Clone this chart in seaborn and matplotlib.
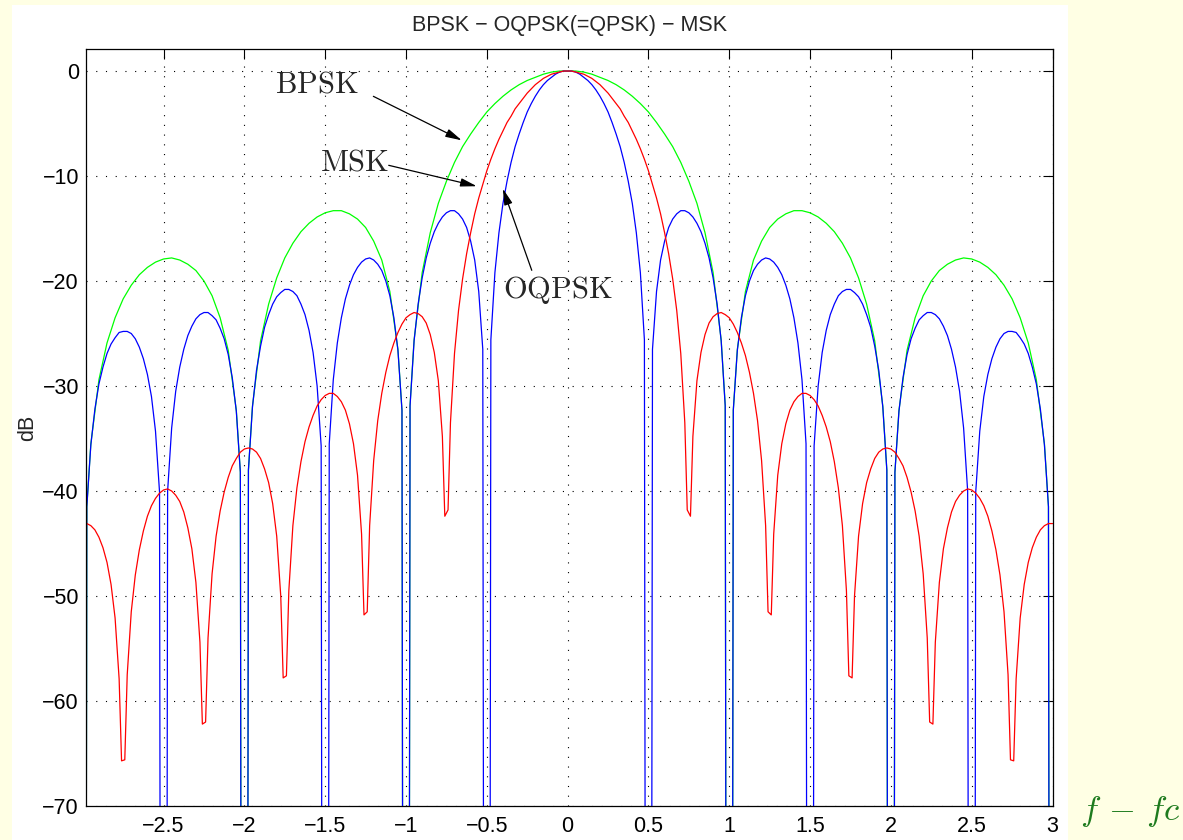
import numpy as np
import matplotlib
matplotlib.use("Agg")
import matplotlib.pyplot as plt
from matplotlib.patches import Rectangle
import seaborn as sns

# ---------------- data (positive-frequency half, spectra are symmetric) ----------------
# BPSK (green)
bpsk_freq = [0.00, 0.05, 0.10, 0.15, 0.20, 0.25, 0.30, 0.35, 0.40, 0.45,
             0.50, 0.55, 0.60, 0.65, 0.70, 0.75, 0.80, 0.85, 0.90, 0.95,
             0.975, 1.00, 1.025, 1.05, 1.10, 1.15, 1.20, 1.25, 1.30, 1.35,
             1.40, 1.45, 1.50, 1.55, 1.60, 1.65, 1.70, 1.75, 1.80, 1.85,
             1.90, 1.95, 1.975, 2.00, 2.025, 2.05, 2.10, 2.15, 2.20, 2.25,
             2.30, 2.35, 2.40, 2.45, 2.50, 2.55, 2.60, 2.65, 2.70, 2.75,
             2.80, 2.85, 2.90, 2.95, 2.975, 3.00]
bpsk_db = [0.0, -0.0, -0.1, -0.3, -0.6, -0.9, -1.3, -1.8, -2.4, -3.1,
           -3.9, -4.9, -6.0, -7.2, -8.7, -10.5, -12.6, -15.4, -19.2, -25.6,
           -31.8, -300.0, -32.3, -26.5, -21.0, -18.0, -16.2, -14.9, -14.1, -13.6,
           -13.3, -13.3, -13.5, -13.9, -14.5, -15.3, -16.4, -17.8, -19.7, -22.2,
           -25.7, -31.9, -38.0, -300.0, -38.2, -32.3, -26.6, -23.5, -21.4, -20.0,
           -19.0, -18.4, -18.0, -17.8, -17.9, -18.2, -18.7, -19.4, -20.4, -21.7,
           -23.5, -25.9, -29.4, -35.5, -41.5, -300.0]

# OQPSK (blue), sampled every 0.025 from 0 to 3
oqpsk_freq = np.linspace(0.0, 3.0, 121)
oqpsk_db = [0.0, -0.0, -0.1, -0.3, -0.6, -0.9, -1.3, -1.8, -2.4, -3.1,
            -3.9, -4.9, -6.0, -7.2, -8.7, -10.5, -12.6, -15.4, -19.2, -25.6,
            -300.0, -26.5, -21.0, -18.0, -16.2, -14.9, -14.1, -13.6, -13.3, -13.3,
            -13.5, -13.9, -14.5, -15.3, -16.4, -17.8, -19.7, -22.2, -25.7, -31.9,
            -300.0, -32.3, -26.6, -23.5, -21.4, -20.0, -19.0, -18.4, -18.0, -17.8,
            -17.9, -18.2, -18.7, -19.4, -20.4, -21.7, -23.5, -25.9, -29.4, -35.5,
            -300.0, -35.7, -30.0, -26.8, -24.7, -23.2, -22.2, -21.4, -21.0, -20.8,
            -20.8, -21.1, -21.5, -22.2, -23.2, -24.4, -26.2, -28.5, -32.0, -38.0,
            -300.0, -38.2, -32.4, -29.2, -27.0, -25.5, -24.5, -23.7, -23.3, -23.0,
            -23.0, -23.2, -23.6, -24.3, -25.2, -26.5, -28.2, -30.5, -34.0, -40.0,
            -300.0, -40.1, -34.3, -31.0, -28.9, -27.4, -26.3, -25.5, -25.0, -24.8,
            -24.8, -24.9, -25.4, -26.0, -26.9, -28.2, -29.8, -32.2, -35.6, -41.5,
            -300.0]

# MSK (red)
msk_freq = [0.000, 0.025, 0.050, 0.075, 0.100, 0.125, 0.150, 0.175, 0.200, 0.225,
            0.250, 0.275, 0.300, 0.325, 0.350, 0.375, 0.400, 0.425, 0.450, 0.475,
            0.500, 0.525, 0.550, 0.575, 0.600, 0.625, 0.650, 0.675, 0.700, 0.725,
            0.740, 0.760, 0.775, 0.800, 0.825, 0.850, 0.875, 0.900, 0.925, 0.950,
            0.975, 1.000, 1.025, 1.050, 1.075, 1.100, 1.125, 1.150, 1.175, 1.200,
            1.225, 1.240, 1.260, 1.275, 1.300, 1.325, 1.350, 1.375, 1.400, 1.425,
            1.450, 1.475, 1.500, 1.525, 1.550, 1.575, 1.600, 1.625, 1.650, 1.675,
            1.700, 1.725, 1.740, 1.760, 1.775, 1.800, 1.825, 1.850, 1.875, 1.900,
            1.925, 1.950, 1.975, 2.000, 2.025, 2.050, 2.075, 2.100, 2.125, 2.150,
            2.175, 2.200, 2.225, 2.240, 2.260, 2.275, 2.300, 2.325, 2.350, 2.375,
            2.400, 2.425, 2.450, 2.475, 2.500, 2.525, 2.550, 2.575, 2.600, 2.625,
            2.650, 2.675, 2.700, 2.725, 2.740, 2.760, 2.775, 2.800, 2.825, 2.850,
            2.875, 2.900, 2.925, 2.950, 2.975, 3.000]
msk_db = [0.0, -0.0, -0.1, -0.2, -0.3, -0.5, -0.7, -1.0, -1.3, -1.7,
          -2.1, -2.6, -3.1, -3.6, -4.3, -4.9, -5.7, -6.5, -7.4, -8.4,
          -9.5, -10.8, -12.1, -13.6, -15.4, -17.4, -19.8, -22.8, -26.9, -33.5,
          -41.8, -42.4, -34.8, -29.5, -26.8, -25.1, -24.0, -23.4, -23.1, -23.0,
          -23.2, -23.5, -24.1, -24.9, -25.9, -27.1, -28.7, -30.7, -33.3, -37.1,
          -43.3, -51.5, -51.8, -44.1, -38.5, -35.5, -33.6, -32.3, -31.5, -31.0,
          -30.7, -30.7, -30.9, -31.3, -31.9, -32.8, -33.9, -35.3, -37.2, -39.7,
          -43.3, -49.5, -57.6, -57.8, -50.0, -44.3, -41.2, -39.2, -37.9, -36.9,
          -36.3, -36.0, -35.9, -36.0, -36.3, -36.9, -37.6, -38.7, -40.1, -41.9,
          -44.3, -47.9, -54.0, -62.0, -62.2, -54.4, -48.7, -45.5, -43.5, -42.0,
          -41.0, -40.4, -40.0, -39.8, -39.9, -40.2, -40.7, -41.4, -42.4, -43.8,
          -45.6, -48.0, -51.5, -57.5, -65.6, -65.7, -57.9, -52.1, -48.9, -46.8,
          -45.4, -44.4, -43.7, -43.3, -43.1, -43.1]

x_ticks = [-2.5, -2, -1.5, -1, -0.5, 0, 0.5, 1, 1.5, 2, 2.5, 3]
x_tick_labels = ["\u22122.5", "\u22122", "\u22121.5", "\u22121", "\u22120.5", "0",
                 "0.5", "1", "1.5", "2", "2.5", "3"]
y_ticks = [-70, -60, -50, -40, -30, -20, -10, 0]
y_tick_labels = ["\u221270", "\u221260", "\u221250", "\u221240", "\u221230",
                 "\u221220", "\u221210", "0"]


def mirror(f, v):
    f = np.asarray(f, float)
    v = np.asarray(v, float)
    return np.concatenate([-f[:0:-1], f]), np.concatenate([v[:0:-1], v])


# ---------------- style ----------------
sns.set_style("white")
plt.rcParams["font.family"] = ["Liberation Sans", "DejaVu Sans"]
plt.rcParams["mathtext.fontset"] = "cm"
plt.rcParams["axes.unicode_minus"] = True

W, H = 1183, 840
fig = plt.figure(figsize=(W / 100, H / 100), dpi=100)
fig.patch.set_facecolor("#FFFFE4")
fig.add_artist(Rectangle((12 / W, 0), (1068 - 12) / W, (H - 5) / H,
                         transform=fig.transFigure, facecolor="white",
                         edgecolor="none", zorder=-10))

ax = fig.add_axes([86 / W, 34 / H, (1052.5 - 86) / W, (806 - 49.3) / H])
ax.set_facecolor("white")

for f, v, c in [(bpsk_freq, bpsk_db, "#00FF00"),
                (oqpsk_freq, oqpsk_db, "#0000FF"),
                (msk_freq, msk_db, "#FF0000")]:
    fx, fy = mirror(f, v)
    sns.lineplot(x=fx, y=fy, ax=ax, color=c, linewidth=0.9,
                 estimator=None, sort=False)

ax.set_xlim(-2.98, 3.0)
ax.set_ylim(-70, 2.07)
ax.set_xticks(x_ticks)
ax.set_xticklabels(x_tick_labels)
ax.set_yticks(y_ticks)
ax.set_yticklabels(y_tick_labels)
ax.tick_params(axis="both", direction="in", length=7, width=0.8,
               top=True, right=True, labelsize=15.5, colors="black")
ax.tick_params(axis="x", pad=7)
ax.tick_params(axis="y", pad=5)
ax.grid(True, color="black", linestyle=(0, (1, 7.75)), linewidth=0.8)
for s in ax.spines.values():
    s.set_visible(True)
    s.set_color("black")
    s.set_linewidth(0.9)

ax.set_xlabel("")
ax.set_ylabel("dB", fontsize=15.5, labelpad=3)
ax.set_title("BPSK \u2212 OQPSK(=QPSK) \u2212 MSK", fontsize=15.5, pad=13)

# annotations
arrow_kw = dict(arrowstyle="-|>,head_length=0.7,head_width=0.18",
                color="black", lw=0.9, shrinkA=0, shrinkB=0, mutation_scale=14)
ax.text(-1.554, -1.3, r"$\mathrm{BPSK}$", fontsize=22, ha="center", va="center")
ax.annotate("", xy=(-0.655, -6.6), xytext=(-1.202, -2.41), arrowprops=arrow_kw)
ax.text(-1.319, -8.7, r"$\mathrm{MSK}$", fontsize=22, ha="center", va="center")
ax.annotate("", xy=(-0.562, -10.97), xytext=(-1.107, -8.98), arrowprops=arrow_kw)
ax.text(-0.062, -20.9, r"$\mathrm{OQPSK}$", fontsize=22, ha="center", va="center")
ax.annotate("", xy=(-0.401, -11.2), xytext=(-0.222, -18.98), arrowprops=arrow_kw)

fig.text(1080 / W, 20 / H, r"$f\,-\,fc$", fontsize=25, color="#1E7B1E",
         ha="left", va="baseline")

fig.savefig("out.png", dpi=100, facecolor=fig.get_facecolor())
